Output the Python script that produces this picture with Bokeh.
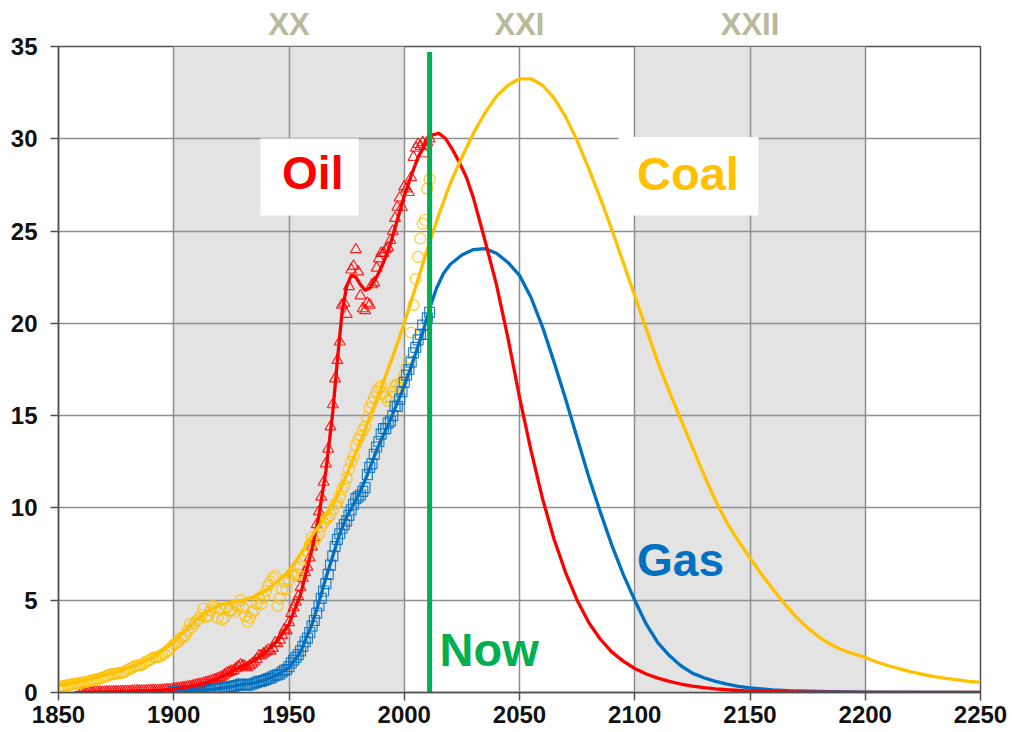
from bokeh.plotting import figure
from bokeh.models import Range1d, FixedTicker, Label, LinearAxis
from bokeh.embed import file_html
from bokeh.resources import INLINE

# ---------------- data ----------------
X_TICKS = [1850, 1900, 1950, 2000, 2050, 2100, 2150, 2200, 2250]
Y_TICKS = [0, 5, 10, 15, 20, 25, 30, 35]

SHADE_START = [1900, 2100]
SHADE_END = [2000, 2200]

CENTURY_NAMES = ["XX", "XXI", "XXII"]
CENTURY_MID = [1950, 2050, 2150]

NOW_YEAR = 2011
NOW_TOP = 34.7

# historical annual observations
OIL_DATA_YEARS = list(range(1860, 2012))
OIL_DATA = [
    0.00, 0.01, 0.01, 0.01, 0.01, 0.01, 0.02, 0.02, 0.02, 0.02,
    0.02, 0.03, 0.03, 0.03, 0.04, 0.04, 0.04, 0.05, 0.05, 0.06,
    0.06, 0.06, 0.07, 0.07, 0.08, 0.08, 0.08, 0.09, 0.09, 0.10,
    0.10, 0.11, 0.11, 0.12, 0.12, 0.13, 0.14, 0.15, 0.16, 0.17,
    0.19, 0.21, 0.22, 0.24, 0.26, 0.28, 0.30, 0.32, 0.35, 0.38,
    0.41, 0.44, 0.47, 0.50, 0.54, 0.58, 0.62, 0.66, 0.70, 0.75,
    0.80, 0.85, 0.95, 1.05, 1.10, 1.15, 1.20, 1.30, 1.40, 1.50,
    1.45, 1.40, 1.35, 1.45, 1.55, 1.65, 1.80, 2.00, 2.00, 2.10,
    2.20, 2.30, 2.25, 2.40, 2.70, 2.65, 2.85, 3.10, 3.40, 3.35,
    3.80, 4.30, 4.60, 4.90, 5.20, 5.70, 6.20, 6.50, 6.80, 7.30,
    7.90, 8.40, 9.10, 9.80, 10.60, 11.40, 12.40, 13.20, 14.40, 15.60,
    17.00, 18.00, 19.00, 21.00, 21.10, 20.50, 22.00, 22.90, 23.10, 24.00,
    22.80, 21.50, 20.80, 20.70, 21.10, 21.00, 22.10, 22.20, 23.00, 23.50,
    23.80, 23.80, 24.00, 24.10, 24.50, 25.00, 25.70, 26.30, 26.80, 26.30,
    27.40, 27.30, 27.10, 27.90, 29.00, 29.50, 29.70, 29.60, 29.80, 29.20,
    29.80, 30.00,
]

COAL_DATA_YEARS = list(range(1850, 2012))
COAL_DATA = [
    0.30, 0.32, 0.35, 0.38, 0.40, 0.42, 0.45, 0.47, 0.48, 0.50,
    0.52, 0.55, 0.57, 0.60, 0.63, 0.66, 0.70, 0.73, 0.76, 0.80,
    0.85, 0.90, 0.95, 1.00, 0.98, 1.02, 1.05, 1.06, 1.08, 1.15,
    1.22, 1.28, 1.35, 1.42, 1.45, 1.48, 1.50, 1.58, 1.68, 1.72,
    1.80, 1.88, 1.90, 1.92, 1.95, 2.05, 2.12, 2.22, 2.32, 2.48,
    2.60, 2.68, 2.75, 2.95, 2.98, 3.10, 3.35, 3.70, 3.55, 3.75,
    3.90, 4.00, 4.20, 4.55, 4.10, 4.15, 4.45, 4.70, 4.60, 4.05,
    4.55, 3.95, 4.05, 4.60, 4.45, 4.45, 4.35, 4.75, 4.70, 5.00,
    4.60, 4.15, 3.85, 4.05, 4.35, 4.45, 4.80, 5.10, 4.80, 5.15,
    5.50, 5.80, 6.00, 6.20, 6.30, 4.70, 5.10, 5.60, 6.00, 5.60,
    6.10, 6.40, 6.30, 6.40, 6.40, 6.80, 7.20, 7.40, 7.60, 8.00,
    8.40, 8.20, 8.40, 8.60, 9.00, 9.20, 9.40, 9.50, 9.60, 9.90,
    10.2, 10.3, 10.6, 11.0, 11.2, 11.6, 12.1, 12.5, 12.8, 13.4,
    13.7, 13.9, 14.2, 14.4, 14.9, 15.4, 15.7, 16.0, 16.3, 16.5,
    16.6, 16.2, 16.0, 15.8, 16.0, 16.3, 16.6, 16.7, 16.5, 16.8,
    17.2, 17.6, 18.0, 19.5, 21.0, 22.4, 23.6, 24.6, 25.4, 25.6,
    27.3, 27.8,
]

GAS_DATA_YEARS = list(range(1900, 2012))
GAS_DATA = [
    0.05, 0.05, 0.06, 0.06, 0.07, 0.07, 0.08, 0.08, 0.09, 0.09,
    0.10, 0.11, 0.12, 0.13, 0.14, 0.15, 0.16, 0.18, 0.19, 0.20,
    0.22, 0.23, 0.25, 0.28, 0.30, 0.32, 0.34, 0.37, 0.40, 0.45,
    0.44, 0.42, 0.40, 0.42, 0.46, 0.50, 0.55, 0.60, 0.60, 0.65,
    0.70, 0.75, 0.78, 0.85, 0.92, 0.95, 1.00, 1.10, 1.20, 1.25,
    1.40, 1.60, 1.75, 1.90, 2.05, 2.25, 2.50, 2.75, 2.95, 3.25,
    3.60, 3.90, 4.30, 4.70, 5.10, 5.50, 5.90, 6.40, 6.90, 7.40,
    7.90, 8.30, 8.60, 8.90, 9.10, 9.30, 9.60, 9.90, 10.2, 10.5,
    10.6, 10.7, 10.9, 11.1, 11.8, 12.2, 12.4, 12.9, 13.3, 13.6,
    14.0, 14.3, 14.3, 14.6, 14.7, 15.0, 15.5, 15.5, 15.9, 16.3,
    16.8, 17.2, 17.5, 17.9, 18.4, 18.7, 19.1, 19.4, 19.9, 19.4,
    20.3, 20.6,
]

# fitted / projected curves
OIL_FIT_YEARS = [1857, 1865, 1870, 1875, 1880, 1885, 1890, 1895, 1900, 1905,
                 1910, 1915, 1920, 1925, 1930, 1935, 1940, 1945, 1950, 1955,
                 1960, 1963, 1966, 1969, 1971, 1973, 1975, 1977, 1979, 1981,
                 1983, 1985, 1988, 1991, 1994, 1997, 2000, 2003, 2006, 2009,
                 2012, 2015, 2018, 2021, 2024, 2027, 2030, 2035, 2040, 2045,
                 2050, 2055, 2060, 2065, 2070, 2075, 2080, 2085, 2090, 2095,
                 2100, 2105, 2110, 2115, 2120, 2125, 2130, 2135, 2140, 2150,
                 2160, 2175, 2200, 2250]
OIL_FIT = [0.0, 0.02, 0.03, 0.04, 0.06, 0.08, 0.10, 0.13, 0.19, 0.28,
           0.40, 0.56, 0.80, 1.12, 1.45, 1.72, 2.20, 2.80, 3.70, 5.30,
           7.80, 9.60, 12.0, 15.2, 18.0, 20.6, 22.0, 22.6, 22.5, 22.1,
           21.8, 21.9, 22.5, 23.3, 24.3, 25.6, 26.9, 28.0, 29.0, 29.7,
           30.2, 30.3, 30.0, 29.4, 28.7, 27.9, 26.8, 24.5, 22.1, 19.2,
           16.0, 13.1, 10.5, 8.3, 6.5, 5.0, 3.8, 2.9, 2.2, 1.7,
           1.3, 1.0, 0.78, 0.60, 0.46, 0.35, 0.27, 0.20, 0.15, 0.08,
           0.04, 0.02, 0.01, 0.0]

GAS_FIT_YEARS = [1898, 1900, 1905, 1910, 1915, 1920, 1925, 1930, 1935, 1940,
                 1945, 1950, 1955, 1960, 1963, 1966, 1969, 1972, 1975, 1978,
                 1981, 1984, 1987, 1990, 1993, 1996, 1999, 2002, 2005, 2008,
                 2011, 2014, 2017, 2020, 2025, 2030, 2035, 2040, 2045, 2050,
                 2055, 2060, 2065, 2070, 2075, 2080, 2085, 2090, 2095, 2100,
                 2105, 2110, 2115, 2120, 2125, 2130, 2135, 2140, 2145, 2150,
                 2160, 2170, 2185, 2200, 2250]
GAS_FIT = [0.0, 0.05, 0.07, 0.10, 0.15, 0.22, 0.32, 0.44, 0.52, 0.70,
           0.95, 1.35, 2.2, 3.7, 4.9, 6.2, 7.4, 8.6, 9.5, 10.2,
           10.9, 11.8, 12.8, 13.7, 14.5, 15.4, 16.3, 17.3, 18.4, 19.5,
           20.8, 21.9, 22.7, 23.2, 23.7, 24.0, 24.05, 23.8, 23.3, 22.6,
           21.4, 19.8, 17.9, 15.9, 13.8, 11.7, 9.8, 8.0, 6.4, 5.0,
           3.7, 2.7, 2.0, 1.45, 1.05, 0.80, 0.60, 0.45, 0.33, 0.25,
           0.14, 0.08, 0.04, 0.02, 0.0]

COAL_FIT_YEARS = list(range(1850, 2251, 5))
COAL_FIT = [0.38, 0.50, 0.62, 0.78, 0.95, 1.12, 1.32, 1.55, 1.85, 2.25,
            2.75, 3.35, 3.95, 4.45, 4.75, 4.90, 5.00, 5.20, 5.55, 6.00,
            6.60, 7.50, 8.50, 9.40, 10.4, 11.8, 13.3, 14.9, 16.5, 18.2,
            20.0, 22.0, 24.0, 25.9, 27.6, 29.0, 30.3, 31.4, 32.3, 32.9,
            33.25, 33.25, 32.9, 32.2, 31.2, 29.9, 28.4, 26.8, 25.1, 23.3,
            21.5, 19.7, 17.9, 16.3, 14.8, 13.3, 11.8, 10.4, 9.2, 8.2,
            7.3, 6.4, 5.6, 4.8, 4.1, 3.5, 3.0, 2.6, 2.3, 2.1,
            1.9, 1.65, 1.45, 1.28, 1.12, 0.98, 0.86, 0.76, 0.68, 0.60,
            0.55]

# ---------------- styling ----------------
RED = "#ff0000"
GOLD = "#ffc000"
BLUE = "#0070c0"
GREEN = "#00b050"
FONT = "Liberation Sans"

p = figure(width=1012, height=732, output_backend="svg", toolbar_location=None,
           title_location=None,
           x_range=Range1d(1850, 2250), y_range=Range1d(0, 35),
           min_border_left=58, min_border_right=32, min_border_top=46,
           min_border_bottom=40)
p.background_fill_color = "white"
p.border_fill_color = "white"
p.outline_line_color = "#505050"
p.outline_line_width = 1.5

for ax, ticks in ((p.xaxis, X_TICKS), (p.yaxis, Y_TICKS)):
    ax.ticker = FixedTicker(ticks=ticks)
    ax.major_label_text_font = FONT
    ax.major_label_text_font_style = "bold"
    ax.major_label_text_color = "#111111"
    ax.axis_line_color = "#505050"
    ax.axis_line_width = 1.5
    ax.major_tick_line_color = "#505050"
    ax.major_tick_line_width = 1.5
    ax.major_tick_out = 8
    ax.major_tick_in = 0
    ax.minor_tick_line_color = None
p.xaxis.major_label_text_font_size = "24px"
p.yaxis.major_label_text_font_size = "24px"
p.xaxis.major_label_standoff = 5
p.yaxis.major_label_standoff = 13

# century names above the frame
top_axis = LinearAxis(ticker=FixedTicker(ticks=CENTURY_MID),
                      major_label_overrides=dict(zip(CENTURY_MID, CENTURY_NAMES)),
                      axis_line_color=None, major_tick_line_color=None,
                      minor_tick_line_color=None, major_tick_out=0, major_tick_in=0,
                      major_label_standoff=5,
                      major_label_text_font=FONT, major_label_text_font_style="bold",
                      major_label_text_font_size="31px",
                      major_label_text_color="#b9b99b")
p.add_layout(top_axis, "above")

p.xgrid.ticker = FixedTicker(ticks=X_TICKS)
p.ygrid.ticker = FixedTicker(ticks=Y_TICKS)
for g in (p.xgrid, p.ygrid):
    g.grid_line_color = "#8e8e8e"
    g.grid_line_width = 1.5

# century shading
p.quad(left=SHADE_START, right=SHADE_END, bottom=p.y_range.start, top=p.y_range.end,
       fill_color="#e3e3e3", line_color=None, level="underlay")

# white boxes behind the Oil / Coal labels
p.quad(left=[1937.6, 2093.0], right=[1980.2, 2153.7], bottom=[25.84, 25.84],
       top=[30.02, 30.1], fill_color="white", line_color=None)

# observations
p.scatter(OIL_DATA_YEARS, OIL_DATA, marker="triangle", size=11, fill_color=None,
          line_color=RED, line_width=1.2, line_alpha=0.85)
p.scatter(COAL_DATA_YEARS, COAL_DATA, marker="circle", size=11, fill_color=None,
          line_color=GOLD, line_width=1.2, line_alpha=0.85)
p.scatter(GAS_DATA_YEARS, GAS_DATA, marker="square", size=10, fill_color=None,
          line_color=BLUE, line_width=1.2, line_alpha=0.85)

# fitted curves
p.line(GAS_FIT_YEARS, GAS_FIT, line_color=BLUE, line_width=3.3, line_join="round")
p.line(OIL_FIT_YEARS, OIL_FIT, line_color=RED, line_width=3.3, line_join="round")
p.line(COAL_FIT_YEARS, COAL_FIT, line_color=GOLD, line_width=3.3, line_join="round")

# "now" line
p.segment(x0=[NOW_YEAR], y0=[p.y_range.start], x1=[NOW_YEAR], y1=[NOW_TOP],
          line_color=GREEN, line_width=5)

# series labels
for txt, x, y, col, size in (("Oil", 1947.0, 28.12, RED, "46px"),
                             ("Coal", 2101.0, 28.10, GOLD, "47px"),
                             ("Gas", 2101.0, 7.16, BLUE, "46px"),
                             ("Now", 2015.3, 2.33, GREEN, "47px")):
    p.add_layout(Label(x=x, y=y, text=txt, text_color=col, text_font=FONT,
                       text_font_style="bold", text_font_size=size,
                       text_align="left", text_baseline="alphabetic"))

open("out.html", "w").write(file_html(p, INLINE))
